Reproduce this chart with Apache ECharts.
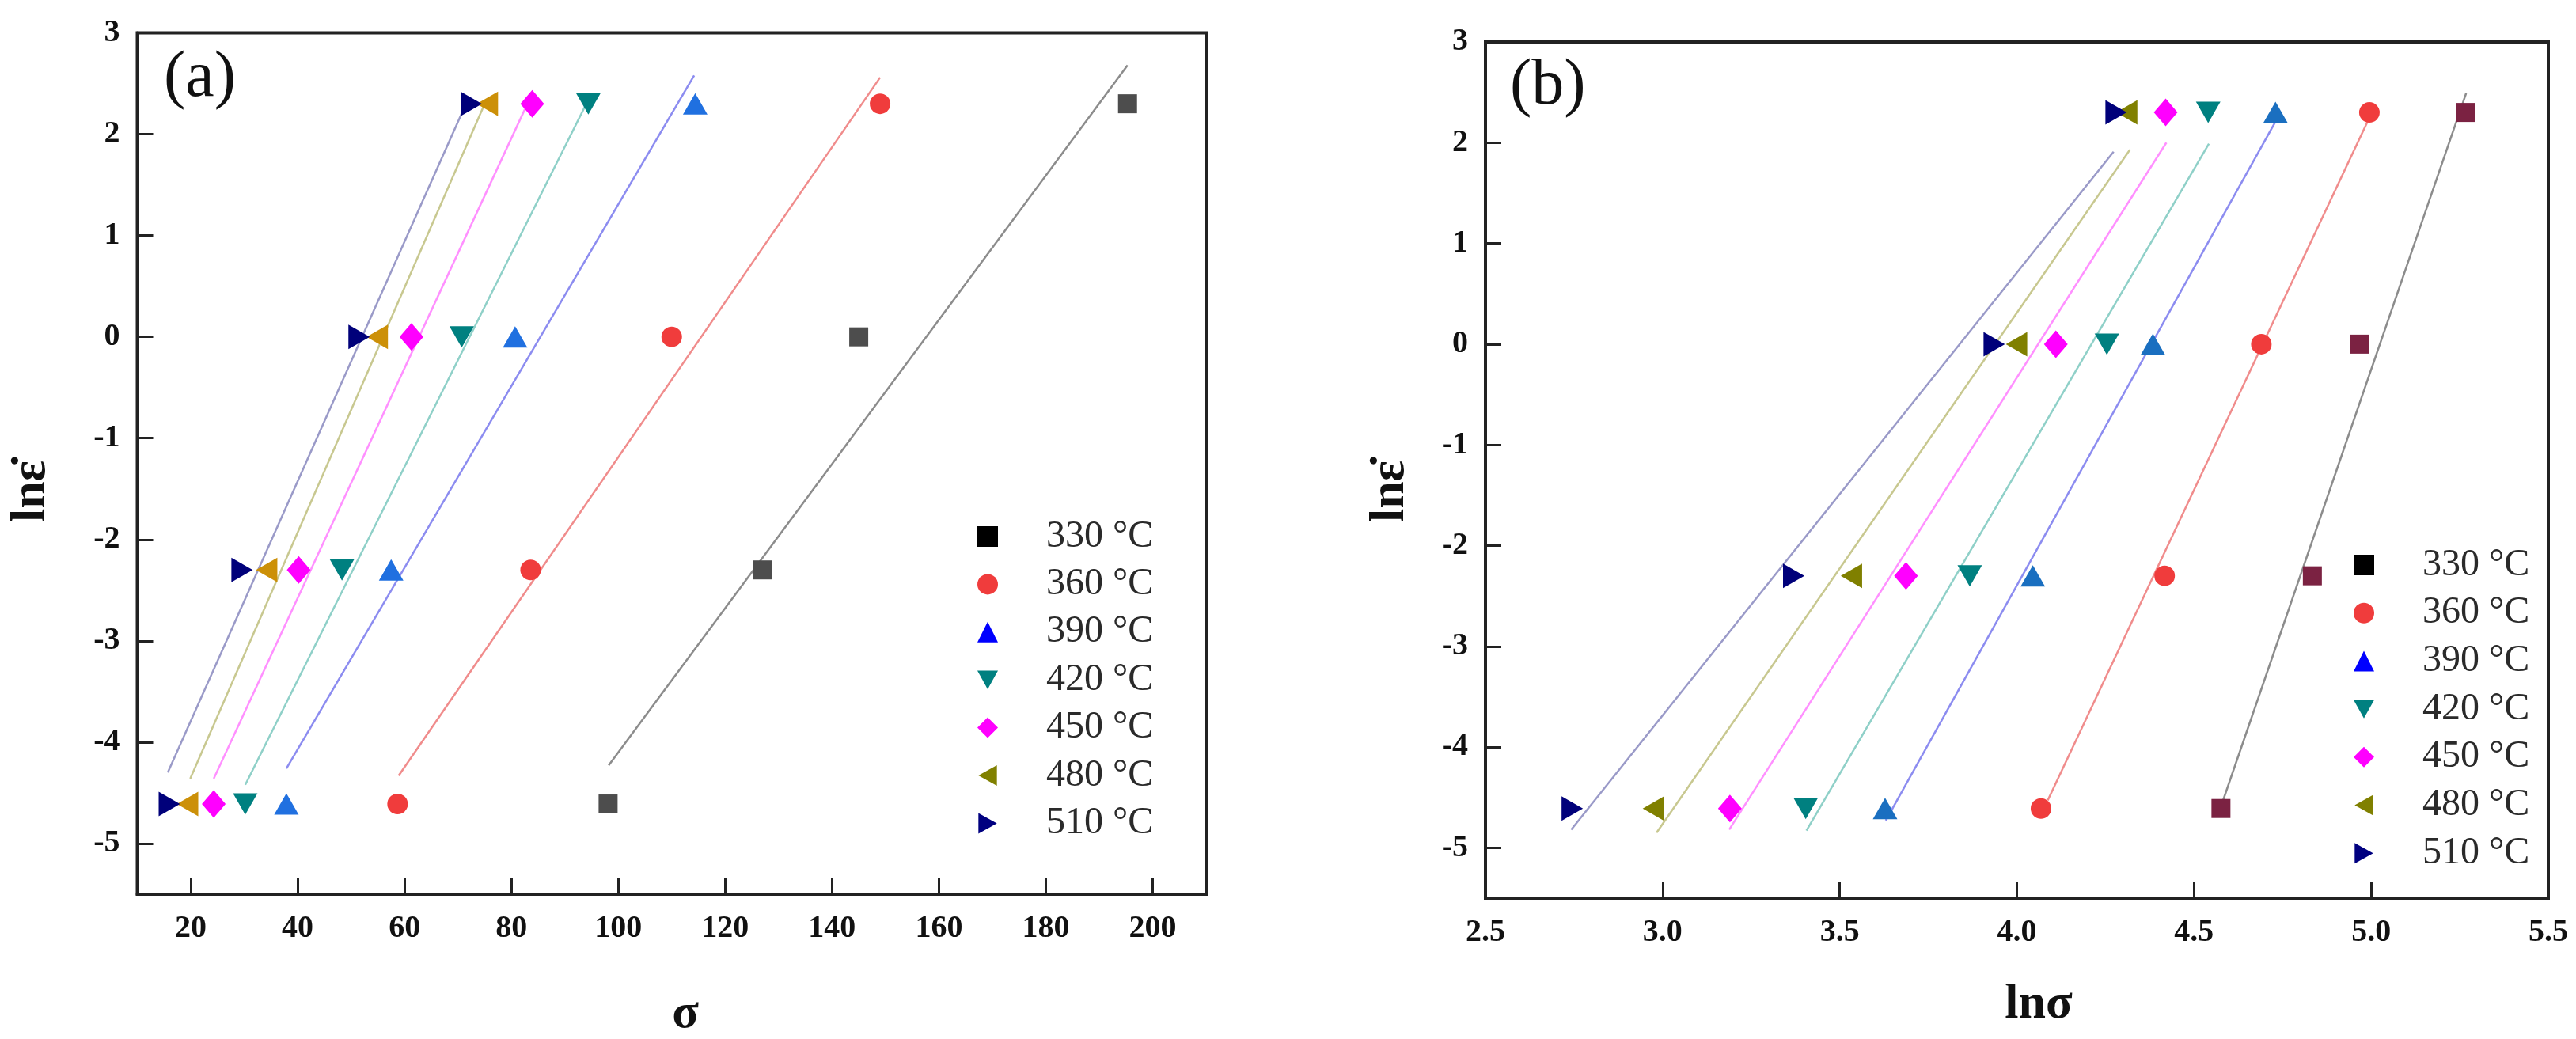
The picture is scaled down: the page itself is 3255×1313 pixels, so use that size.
<!DOCTYPE html>
<html>
<head>
<meta charset="utf-8">
<script src="https://cdn.jsdelivr.net/npm/echarts@6.0.0/dist/echarts.min.js"></script>
<style>
html,body{margin:0;padding:0;background:#fff;}
#chart{width:3255px;height:1313px;}
</style>
</head>
<body>
<div id="chart"></div>
<script>
// ---- data ----
const temps = ['330 °C', '360 °C', '390 °C', '420 °C', '450 °C', '480 °C', '510 °C'];
const lnRate = [-4.61, -2.30, 0, 2.30];

// panel (a): sigma at each ln(strain rate)
const sigma330 = [98.1, 127.0, 145.0, 195.3];
const sigma360 = [58.7, 83.6, 110.0, 149.0];
const sigma390 = [37.9, 57.5, 80.7, 114.4];
const sigma420 = [30.2, 48.3, 70.7, 94.4];
const sigma450 = [24.3, 40.2, 61.3, 83.9];
const sigma480 = [19.4, 34.2, 54.9, 75.5];
const sigma510 = [16.0, 29.6, 51.5, 72.5];

// panel (b): ln(sigma) at each ln(strain rate)
const lnSigma330 = [4.576, 4.834, 4.968, 5.266];
const lnSigma360 = [4.068, 4.417, 4.690, 4.995];
const lnSigma390 = [3.628, 4.045, 4.384, 4.730];
const lnSigma420 = [3.404, 3.867, 4.254, 4.540];
const lnSigma450 = [3.190, 3.687, 4.110, 4.420];
const lnSigma480 = [2.974, 3.533, 3.999, 4.310];
const lnSigma510 = [2.745, 3.370, 3.936, 4.280];

// fitted lines: [[x1, y1], [x2, y2]]
const fitA330 = [[98.2, -4.23], [195.3, 2.68]];
const fitA360 = [[58.9, -4.33], [149.0, 2.56]];
const fitA390 = [[37.9, -4.26], [114.2, 2.58]];
const fitA420 = [[30.2, -4.42], [94.5, 2.35]];
const fitA450 = [[24.3, -4.36], [83.0, 2.30]];
const fitA480 = [[19.9, -4.36], [75.0, 2.30]];
const fitA510 = [[15.7, -4.30], [71.5, 2.30]];

const fitB330 = [[4.582, -4.53], [5.268, 2.49]];
const fitB360 = [[4.087, -4.53], [4.990, 2.21]];
const fitB390 = [[3.630, -4.73], [4.730, 2.21]];
const fitB420 = [[3.406, -4.83], [4.542, 1.99]];
const fitB450 = [[3.188, -4.82], [4.422, 2.00]];
const fitB480 = [[2.983, -4.85], [4.319, 1.93]];
const fitB510 = [[2.742, -4.82], [4.273, 1.91]];

const xTicksA = [20, 40, 60, 80, 100, 120, 140, 160, 180, 200];
const yTicks = [-5, -4, -3, -2, -1, 0, 1, 2, 3];

// ---- styles ----
const sigmaA = [sigma330, sigma360, sigma390, sigma420, sigma450, sigma480, sigma510];
const sigmaB = [lnSigma330, lnSigma360, lnSigma390, lnSigma420, lnSigma450, lnSigma480, lnSigma510];
const fitsA = [fitA330, fitA360, fitA390, fitA420, fitA450, fitA480, fitA510];
const fitsB = [fitB330, fitB360, fitB390, fitB420, fitB450, fitB480, fitB510];

const symbols = ['rect', 'circle', 'triangle', 'triangle', 'diamond', 'triangle', 'triangle'];
const rotations = [0, 0, 0, 180, 0, 90, -90];
const legendIcons = ['rect', 'circle', 'triangle',
  'path://M0,0 L10,0 L5,9 Z', 'diamond',
  'path://M9,0 L9,10 L0,5 Z', 'path://M0,0 L0,10 L9,5 Z'];
const sizes = [24, 26, [31, 27], [31, 27], [30, 35], [31, 27], [31, 27]];
const colorsA = ['#4d4d4d', '#f03c3c', '#2070e0', '#008080', '#ff00ff', '#cc9008', '#00007a'];
const colorsB = ['#7b2242', '#f03c3c', '#1a6fc0', '#008080', '#ff00ff', '#808000', '#00007a'];
const legendColors = ['#000000', '#f03c3c', '#0000ff', '#008080', '#ff00ff', '#808000', '#000080'];
const lineColors = ['#8c8c8c', '#f08c8c', '#8c8cf0', '#8fd0c8', '#ff90ff', '#c8c890', '#9a9ac8'];

const FONT = '"Liberation Serif", "Times New Roman", serif';

function labelStyle(margin, extra) {
  return Object.assign({ fontFamily: FONT, fontWeight: 'bold', fontSize: 40, color: '#111', margin: margin }, extra || {});
}
function tickStyle(extra) {
  return Object.assign({ show: true, inside: true, length: 20, lineStyle: { color: '#222', width: 3 } }, extra || {});
}
function makeAxis(extra) {
  return Object.assign({
    type: 'value',
    axisLine: { show: true, onZero: false, lineStyle: { color: '#222', width: 4 } },
    axisTick: tickStyle(),
    splitLine: { show: false },
    axisLabel: labelStyle(22)
  }, extra);
}

const series = [];
[0, 1].forEach(p => {
  const fits = p === 0 ? fitsA : fitsB;
  fits.forEach((f, i) => {
    series.push({
      type: 'line', name: 'fit' + p + '_' + i, xAxisIndex: p, yAxisIndex: p,
      data: f, showSymbol: false, symbol: 'none', silent: true, z: 2,
      lineStyle: { color: lineColors[i], width: 2.5 }
    });
  });
});
[0, 1].forEach(p => {
  const xs = p === 0 ? sigmaA : sigmaB;
  const cols = p === 0 ? colorsA : colorsB;
  xs.forEach((arr, i) => {
    series.push({
      type: 'scatter', name: temps[i], xAxisIndex: p, yAxisIndex: p, z: 5,
      symbol: symbols[i], symbolRotate: rotations[i], symbolSize: sizes[i],
      itemStyle: { color: cols[i], opacity: 1 },
      data: arr.map((x, k) => [x, lnRate[k]])
    });
  });
});

function legendFor(left, top, gap) {
  return {
    orient: 'vertical', left: left, top: top, itemGap: gap,
    itemWidth: 26, itemHeight: 26, selectedMode: false, symbolRotate: 0,
    textStyle: { fontFamily: FONT, fontSize: 48, color: '#2a2a2a', lineHeight: 48, padding: [0, 0, 0, 56] },
    data: temps.map((t, i) => ({ name: t, icon: legendIcons[i], itemStyle: { color: legendColors[i] } }))
  };
}

const option = {
  animation: false,
  backgroundColor: '#fff',
  grid: [
    { left: 173.5, top: 41.5, width: 1350.5, height: 1088.5, show: true, borderColor: '#222', borderWidth: 4 },
    { left: 1877, top: 53, width: 1343, height: 1082, show: true, borderColor: '#222', borderWidth: 4 }
  ],
  xAxis: [
    makeAxis({ gridIndex: 0, min: 10, max: 210,
      axisTick: tickStyle({ customValues: xTicksA }),
      axisLabel: labelStyle(24, { customValues: xTicksA }) }),
    makeAxis({ gridIndex: 1, min: 2.5, max: 5.5, interval: 0.5,
      axisLabel: labelStyle(24, { formatter: v => v.toFixed(1) }) })
  ],
  yAxis: [
    makeAxis({ gridIndex: 0, min: -5.5, max: 3,
      axisTick: tickStyle({ customValues: yTicks }),
      axisLabel: labelStyle(22, { customValues: yTicks }) }),
    makeAxis({ gridIndex: 1, min: -5.5, max: 3,
      axisTick: tickStyle({ customValues: yTicks }),
      axisLabel: labelStyle(22, { customValues: yTicks }) })
  ],
  legend: [legendFor(1230, 649, 12.4), legendFor(2969, 685, 12.7)],
  graphic: [
    { type: 'text', left: 207, top: 58, style: { text: '(a)', font: 'normal 82px "Liberation Serif"', fill: '#111' } },
    { type: 'text', left: 1908, top: 68, style: { text: '(b)', font: 'normal 82px "Liberation Serif"', fill: '#111' } },
    { type: 'text', x: 40, y: 621, rotation: Math.PI / 2,
      style: { text: 'ln\u03B5\u0307', font: 'bold 62px "Liberation Serif"', fill: '#111', align: 'center', verticalAlign: 'middle' } },
    { type: 'text', x: 1757, y: 621, rotation: Math.PI / 2,
      style: { text: 'ln\u03B5\u0307', font: 'bold 62px "Liberation Serif"', fill: '#111', align: 'center', verticalAlign: 'middle' } },
    { type: 'text', x: 866, y: 1282,
      style: { text: '\u03C3', font: 'bold 62px "Liberation Serif"', fill: '#111', align: 'center', verticalAlign: 'middle' } },
    { type: 'text', x: 2576, y: 1270,
      style: { text: 'ln\u03C3', font: 'bold 62px "Liberation Serif"', fill: '#111', align: 'center', verticalAlign: 'middle' } }
  ],
  series: series
};

const chart = echarts.init(document.getElementById('chart'));
chart.setOption(option);
</script>
</body>
</html>
